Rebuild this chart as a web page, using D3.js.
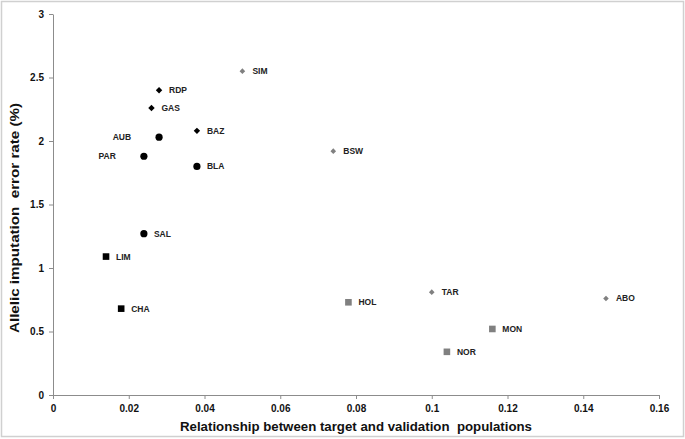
<!DOCTYPE html>
<html>
<head>
<meta charset="utf-8">
<script src="https://cdn.jsdelivr.net/npm/d3@7"></script>
<style>
  body { margin: 0; background: #fff; }
  svg { display: block; }
  text { font-family: "Liberation Sans", Arial, sans-serif; font-weight: bold; }
</style>
</head>
<body>
<svg id="chart" width="685" height="439"></svg>
<script>
// Data
const names  = ["SIM","RDP","GAS","AUB","BAZ","PAR","BLA","SAL","LIM","CHA","BSW","HOL","TAR","NOR","MON","ABO"];
const relX   = [0.050,0.028,0.026,0.028,0.038,0.024,0.038,0.024,0.014,0.018,0.074,0.078,0.100,0.104,0.116,0.146];
const errY   = [2.55, 2.40, 2.26, 2.03, 2.08, 1.88, 1.80, 1.27, 1.09, 0.68, 1.92, 0.73, 0.81, 0.34, 0.52, 0.76];
const shapes = ["diamond","diamond","diamond","circle","diamond","circle","circle","circle","square","square","diamond","square","diamond","square","square","diamond"];
const tones  = ["gray","black","black","black","black","black","black","black","black","black","gray","gray","gray","gray","gray","gray"];
const labelSide = ["right","right","right","left","right","left","right","right","right","right","right","right","right","right","right","right"];
const xTicks = [0,0.02,0.04,0.06,0.08,0.1,0.12,0.14,0.16];
const yTicks = [0,0.5,1,1.5,2,2.5,3];

const svg = d3.select("#chart");
const W = 685, H = 439;

// outer border
svg.append("rect").attr("x",1.5).attr("y",1.5).attr("width",W-3).attr("height",H-4)
  .attr("fill","#fff").attr("stroke","#d0d0d0").attr("stroke-width",1.5);

const x = d3.scaleLinear().domain([0,0.16]).range([53,659]);
const y = d3.scaleLinear().domain([0,3]).range([395,14]);

const axisColor = "#8c8c8c";

// X axis
const gx = svg.append("g").attr("transform","translate(0,395)")
  .call(d3.axisBottom(x).tickValues(xTicks).tickSize(4).tickSizeOuter(0)
    .tickFormat(d => d3.format("")(+d.toFixed(2))));
gx.select(".domain").attr("stroke",axisColor);
gx.selectAll(".tick line").attr("stroke",axisColor);
gx.selectAll(".tick text").attr("fill","#111").attr("font-size",10).attr("dy","1.0em")
  .style("font-family","'Liberation Sans', Arial, sans-serif").style("font-weight","bold");

// Y axis
const gy = svg.append("g").attr("transform","translate(53,0)")
  .call(d3.axisLeft(y).tickValues(yTicks).tickSize(4).tickSizeOuter(0)
    .tickFormat(d => String(d)));
gy.select(".domain").attr("stroke",axisColor);
gy.selectAll(".tick line").attr("stroke",axisColor);
gy.selectAll(".tick text").attr("fill","#111").attr("font-size",10).attr("x",-9)
  .style("font-family","'Liberation Sans', Arial, sans-serif").style("font-weight","bold");

// Axis titles
svg.append("text").attr("x",356).attr("y",430.5).attr("text-anchor","middle")
  .attr("font-size",13.5).attr("fill","#111").attr("xml:space","preserve")
  .attr("textLength",352).attr("lengthAdjust","spacingAndGlyphs")
  .text("Relationship between target and validation  populations");
svg.append("text").attr("transform","translate(18.5,218) rotate(-90)").attr("text-anchor","middle")
  .attr("font-size",13.5).attr("fill","#111").attr("xml:space","preserve")
  .attr("textLength",230).attr("lengthAdjust","spacingAndGlyphs")
  .text("Allelic imputation  error rate (%)");

const pts = names.map((n,i) => ({name:n, x:relX[i], y:errY[i], shape:shapes[i], tone:tones[i], side:labelSide[i]}));
const colorOf = t => t === "gray" ? "#808080" : "#000";

const marks = svg.append("g");
pts.forEach(p => {
  const cx = x(p.x), cy = y(p.y), c = colorOf(p.tone);
  if (p.shape === "circle") {
    marks.append("circle").attr("cx",cx).attr("cy",cy).attr("r",3.6).attr("fill",c);
  } else if (p.shape === "square") {
    marks.append("rect").attr("x",cx-3.3).attr("y",cy-3.3).attr("width",6.6).attr("height",6.6).attr("fill",c);
  } else {
    const s = p.tone === "gray" ? 2.8 : 3.2;
    marks.append("path").attr("d",`M${cx},${cy-s}L${cx+s},${cy}L${cx},${cy+s}L${cx-s},${cy}Z`).attr("fill",c);
  }
  const lab = marks.append("text").attr("y",cy).attr("dy","0.35em").attr("font-size",8.5)
    .attr("fill","#222").text(p.name);
  if (p.side === "left") lab.attr("x",cx-28).attr("text-anchor","end");
  else lab.attr("x",cx+10).attr("text-anchor","start");
});
</script>
</body>
</html>
